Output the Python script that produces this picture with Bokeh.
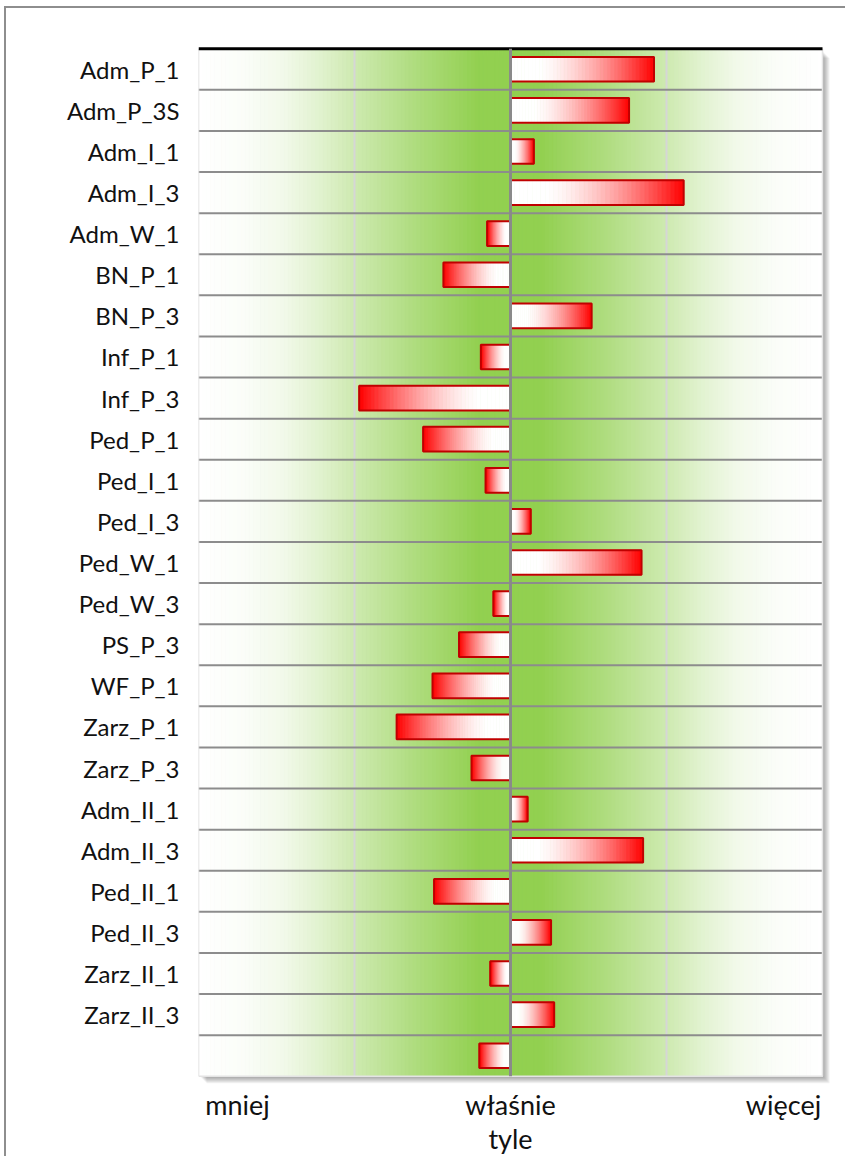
import numpy as np
from bokeh.plotting import figure
from bokeh.models import FactorRange, FixedTicker, Range1d
from bokeh.embed import file_html
from bokeh.resources import INLINE

# ---- data ----
categories = ["Adm_P_1", "Adm_P_3S", "Adm_I_1", "Adm_I_3", "Adm_W_1", "BN_P_1",
              "BN_P_3", "Inf_P_1", "Inf_P_3", "Ped_P_1", "Ped_I_1", "Ped_I_3",
              "Ped_W_1", "Ped_W_3", "PS_P_3", "WF_P_1", "Zarz_P_1", "Zarz_P_3",
              "Adm_II_1", "Adm_II_3", "Ped_II_1", "Ped_II_3", "Zarz_II_1",
              "Zarz_II_3", " "]
values = [0.92, 0.76, 0.15, 1.11, -0.15, -0.43, 0.52, -0.19, -0.97, -0.56,
          -0.16, 0.13, 0.84, -0.11, -0.33, -0.50, -0.73, -0.25, 0.11, 0.85,
          -0.49, 0.26, -0.13, 0.28, -0.20]
x_ticks = [-1.75, 0.0, 1.75]
x_tick_labels = ["mniej", "właśnie\ntyle", "więcej"]
x_min, x_max = -2.0, 2.0
grid_x = [-1.0, 1.0]

n = len(categories)

# layout constants (pixels)
FRAME_W, PX_PER_X = 632, 156.0
PAD_Y = 0.2                      # factor units of padding (room for shadow)
PX_PER_Y = 41.2


def mix(c0, c1, t):
    return "#%02x%02x%02x" % tuple(int(round(a + (b - a) * t)) for a, b in zip(c0, c1))


WHITE = (255, 255, 255)
GREEN = (146, 208, 80)
RED = (255, 0, 0)

p = figure(width=841, height=1150,
           y_range=FactorRange(factors=categories[::-1], range_padding=PAD_Y,
                               range_padding_units="absolute"),
           x_range=Range1d(x_min, x_min + FRAME_W / PX_PER_X),
           output_backend="svg", toolbar_location=None,
           min_border_left=192, min_border_right=841 - 192 - FRAME_W,
           min_border_top=32, min_border_bottom=72)
p.styles = {"margin-left": "6px", "margin-top": "8px",
            "box-shadow": "-2px -2px 0px 0px #8e8e8e"}
p.outline_line_color = None
p.background_fill_color = "white"
p.border_fill_color = "white"
p.xgrid.visible = False
p.ygrid.visible = False

# ---- drop shadow of the plot area ----
px, py = 1 / PX_PER_X, 1 / PX_PER_Y
for i in range(7):
    p.quad(left=x_min + (2 + i) * px, right=x_max + (1 + i) * px,
           bottom=0 - (1 + i) * py, top=n - (3 + i) * py,
           fill_color="black", fill_alpha=0.055, line_color=None, level="image")

# ---- background gradient (white edges -> green centre) ----
nb = 160
edges = np.linspace(x_min, x_max, nb + 1)
f_stops = [0.0, 0.10, 0.30, 0.50, 0.62, 0.72, 0.85, 1.0]
t_stops = [1.0, 1.0, 0.74, 0.45, 0.26, 0.13, 0.04, 0.0]
bl, br, bc = [], [], []
for a, b in zip(edges[:-1], edges[1:]):
    f = abs((a + b) / 2) / x_max
    t = float(np.interp(f, f_stops, t_stops))
    bl.append(a)
    br.append(b)
    bc.append(mix(WHITE, GREEN, t))
p.quad(left=bl, right=br, bottom=0, top=n, fill_color=bc, line_color=bc,
       line_width=1, level="image")

# vertical light gridlines
p.segment(x0=grid_x, x1=grid_x, y0=0, y1=n, line_color="#d6d6d6", line_width=2)
# row separators
rows = list(range(1, n))
p.segment(x0=x_min, x1=x_max, y0=rows, y1=rows, line_color="#8c8c8c", line_width=2)
# frame edges
p.segment(x0=[x_min], x1=[x_min], y0=[0], y1=[n], line_color="#dcdcdc", line_width=1.5)
p.segment(x0=[x_max], x1=[x_max], y0=[0], y1=[n], line_color="#e4e4e4", line_width=1.5)
p.segment(x0=[x_min], x1=[x_max], y0=[0], y1=[0], line_color="#e4e4e4", line_width=1.5)
p.segment(x0=[x_min], x1=[x_max], y0=[n], y1=[n], line_color="black", line_width=3)

# ---- bars with gradient (white at zero -> red at end) ----
N = 40
sy, sl, sr, sc = [], [], [], []
for cat, v in zip(categories, values):
    for k in range(N):
        s0, s1 = k / N, (k + 1) / N
        sm = (s0 + s1) / 2
        t = max(0.0, (sm - 0.2) / 0.8) ** 1.5
        a, b = v * s0, v * s1
        sy.append(cat)
        sl.append(min(a, b))
        sr.append(max(a, b))
        sc.append(mix(WHITE, RED, t))
p.hbar(y=sy, left=sl, right=sr, height=0.6, fill_color=sc, line_color=sc,
       line_width=0.8)
p.hbar(y=categories, left=[min(0, v) for v in values],
       right=[max(0, v) for v in values], height=0.6,
       fill_color=None, line_color="#c00000", line_width=2)

# centre line
p.segment(x0=[0], x1=[0], y0=[0], y1=[n], line_color="#8a8a8a", line_width=3)

# ---- axes ----
ya = p.yaxis[0]
ya.axis_line_color = None
ya.major_tick_line_color = None
ya.minor_tick_line_color = None
ya.major_tick_out = 0
ya.major_tick_in = 0
ya.major_label_standoff = 19
ya.major_label_text_font = "Lato"
ya.major_label_text_font_size = "24px"
ya.major_label_text_color = "#111111"

xa = p.xaxis[0]
xa.ticker = FixedTicker(ticks=x_ticks)
xa.major_label_overrides = {t: l for t, l in zip(x_ticks, x_tick_labels)}
xa.axis_line_color = None
xa.major_tick_line_color = None
xa.minor_tick_line_color = None
xa.major_tick_out = 0
xa.major_tick_in = 0
xa.major_label_standoff = 3
xa.major_label_text_font = "Lato"
xa.major_label_text_font_size = "27px"
xa.major_label_text_color = "#111111"
xa.major_label_text_line_height = 1.06

open("out.html", "w").write(file_html(p, INLINE))
